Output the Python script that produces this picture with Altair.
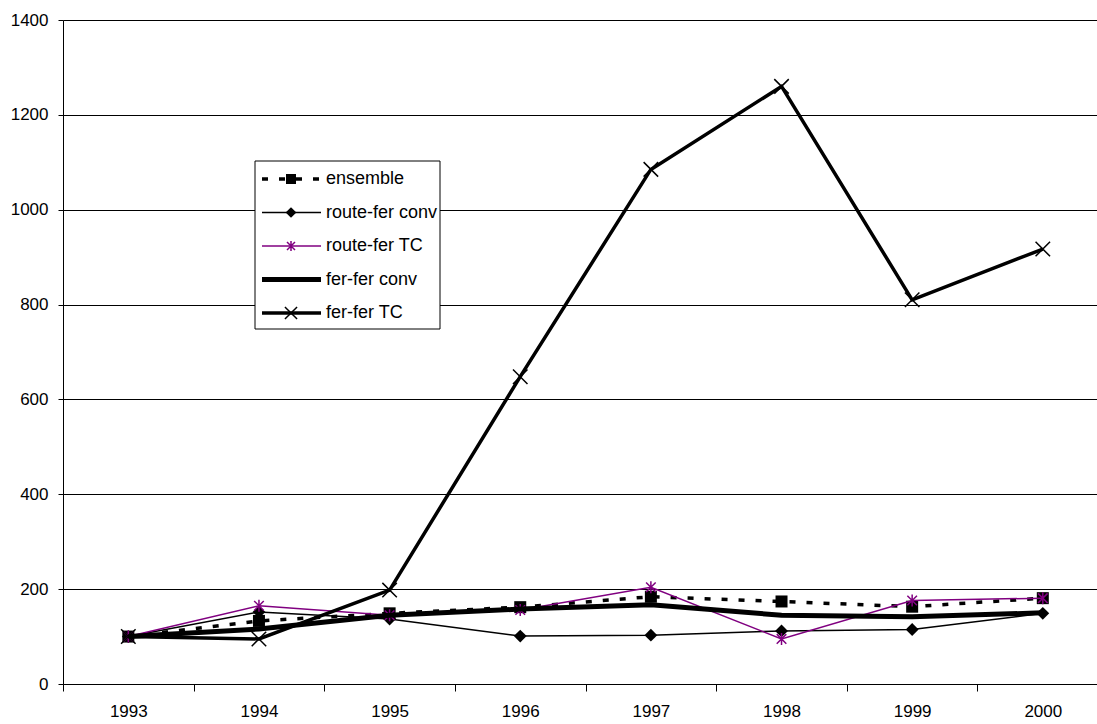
import altair as alt
import pandas as pd

# Yearly index values (base 100 in 1993)
years = [1993, 1994, 1995, 1996, 1997, 1998, 1999, 2000]
ensemble = [100, 133, 149, 162, 184, 174, 163, 181]
route_fer_conv = [100, 152, 137, 101, 103, 112, 115, 149]
route_fer_tc = [100, 165, 145, 156, 204, 95, 176, 181]
fer_fer_conv = [100, 116, 145, 158, 167, 145, 142, 150]
fer_fer_tc = [100, 95, 198, 648, 1085, 1260, 810, 917]

series_names = ["ensemble", "route-fer conv", "route-fer TC", "fer-fer conv", "fer-fer TC"]
series_values = [ensemble, route_fer_conv, route_fer_tc, fer_fer_conv, fer_fer_tc]

FONT = "Liberation Sans"
PURPLE = "#800080"

# plot geometry
W, H = 1034, 664
STEP = 130.64
x_min = 1992.5
x_max = x_min + W / STEP

STAR = "M0,-1L0,1M-0.8,-0.8L0.8,0.8M-0.8,0.8L0.8,-0.8"
CROSS = "M-1,-1L1,1M-1,1L1,-1"

# styles per series: line props and marker props
styles = {
    "ensemble": dict(line=dict(color="black", strokeWidth=3.5, strokeDash=[6, 11]),
                     point=dict(shape="square", filled=True, color="black", size=144)),
    "route-fer conv": dict(line=dict(color="black", strokeWidth=1.5),
                           point=dict(shape="diamond", filled=True, color="black", size=165)),
    "route-fer TC": dict(line=dict(color=PURPLE, strokeWidth=1.5),
                         point=dict(shape=STAR, filled=False, color=PURPLE, size=144, strokeWidth=1.5)),
    "fer-fer conv": dict(line=dict(color="black", strokeWidth=5), point=None),
    "fer-fer TC": dict(line=dict(color="black", strokeWidth=3.5),
                       point=dict(shape=CROSS, filled=False, color="black", size=210, strokeWidth=1.5)),
}

rows = []
for name, vals in zip(series_names, series_values):
    for y, v in zip(years, vals):
        rows.append({"series": name, "year": y, "value": v})
df = pd.DataFrame(rows)

x_enc = alt.X(
    "year:Q",
    scale=alt.Scale(domain=[x_min, x_max], nice=False, zero=False),
    axis=alt.Axis(
        values=years, format="d", title=None, grid=False,
        tickOffset=-STEP / 2, labelOffset=STEP / 2,
        tickSize=7, labelPadding=12, labelFlush=False, labelOverlap=False,
        labelFontSize=17, labelFont=FONT, labelColor="black",
        domainColor="black", tickColor="black",
    ),
)
y_enc = alt.Y(
    "value:Q",
    scale=alt.Scale(domain=[0, 1400], nice=False),
    axis=alt.Axis(
        values=list(range(0, 1401, 200)), format="d", title=None, grid=True,
        gridColor="black", gridWidth=1, gridOpacity=1,
        tickSize=5, labelPadding=10, labelFlush=False,
        labelFontSize=17, labelFont=FONT, labelColor="black",
        domainColor="black", tickColor="black",
    ),
)

base = alt.Chart(df).encode(x=x_enc, y=y_enc)

layers = []
for name in series_names:
    st = styles[name]
    sub = base.transform_filter(alt.datum.series == name)
    layers.append(sub.mark_line(**st["line"]))
    if st["point"] is not None:
        layers.append(sub.mark_point(opacity=1, **st["point"]))

# legend: one row per entry so each item is drawn once
legend_df = pd.DataFrame({"series": series_names})

LX0, LX1, LY0, LY1 = 192, 377, 141, 309
layers.append(
    alt.Chart(legend_df).transform_filter(alt.datum.series == series_names[0])
    .mark_rect(fill="white", stroke="black", strokeWidth=1)
    .encode(x=alt.value(LX0), x2=alt.value(LX1), y=alt.value(LY0), y2=alt.value(LY1))
)
for i, name in enumerate(series_names):
    st = styles[name]
    yy = 159 + i * 33.5
    item = alt.Chart(legend_df).transform_filter(alt.datum.series == name)
    layers.append(
        item.mark_rule(**st["line"]).encode(x=alt.value(199), x2=alt.value(258), y=alt.value(yy))
    )
    if st["point"] is not None:
        p = dict(st["point"])
        p["size"] = int(p["size"] * 0.7)
        layers.append(item.mark_point(opacity=1, **p).encode(x=alt.value(228), y=alt.value(yy)))
    layers.append(
        item.mark_text(align="left", baseline="middle", fontSize=18, font=FONT, color="black")
        .encode(x=alt.value(263), y=alt.value(yy), text="series:N")
    )

chart = alt.layer(*layers).properties(
    width=W, height=H,
    autosize=alt.AutoSizeParams(type="none"),
    padding={"left": 63, "top": 20, "right": 0, "bottom": 40},
    background="white",
).configure_view(stroke=None)

chart.save("out.html", embed_options={"renderer": "svg", "actions": False})
